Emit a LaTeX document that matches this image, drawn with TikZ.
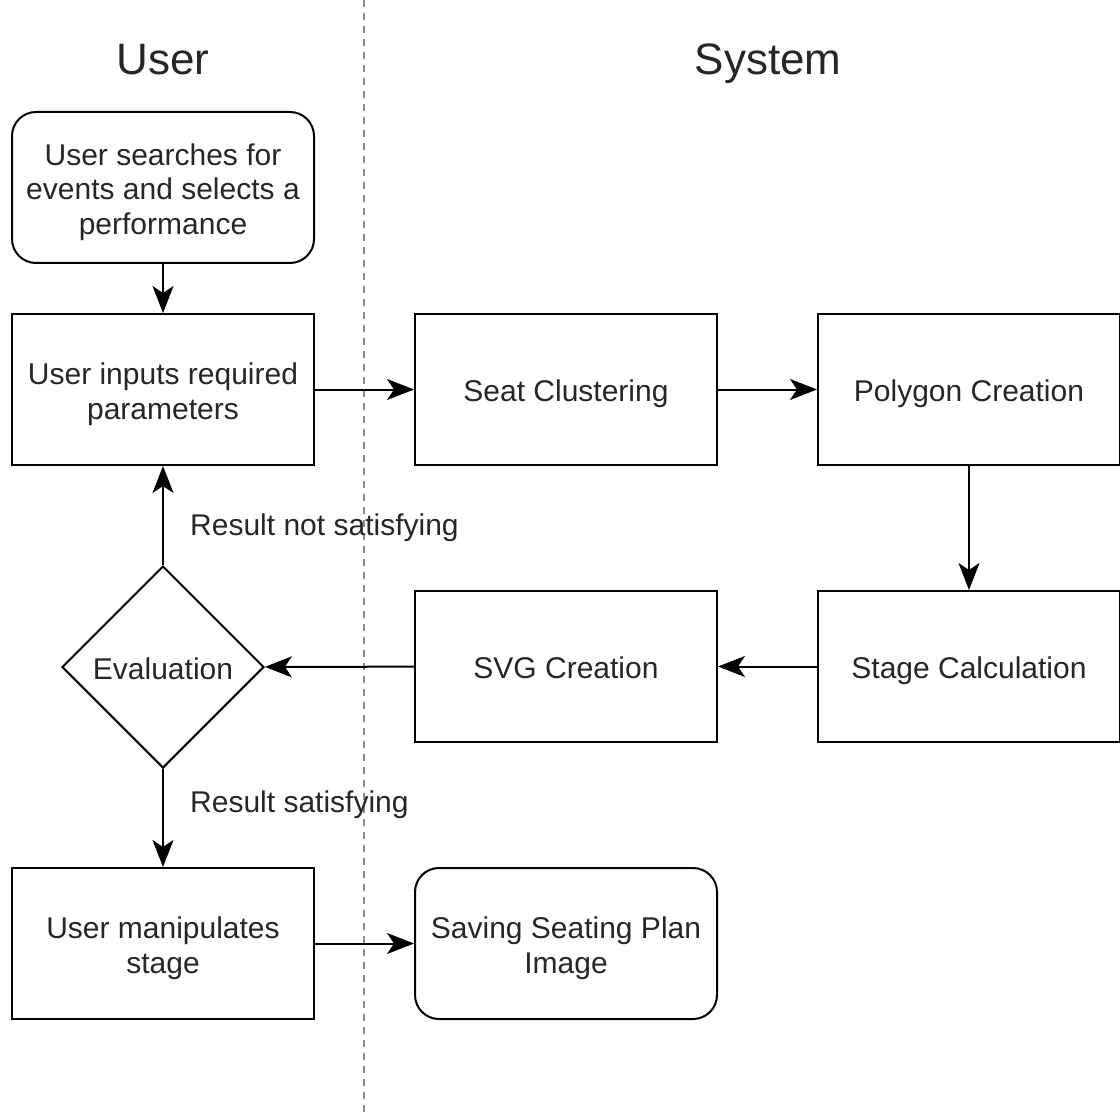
\documentclass[tikz,border=0pt]{standalone}
\usepackage{fontspec}
\setmainfont{Liberation Sans}
\usetikzlibrary{arrows.meta,shapes.geometric}
\newcommand\bxtext[1]{\raisebox{-5.5pt}[\height][\depth]{\begin{tabular}{@{}c@{}}#1\end{tabular}}}
\begin{document}
\begin{tikzpicture}[x=1pt,y=-1pt,
  box/.style={draw, line width=2pt, minimum width=302pt, minimum height=151pt,
    inner sep=0pt, font=\fontsize{30}{34.5}\selectfont, text=black!85},
  rbox/.style={box, rounded corners=24pt},
  decision/.style={draw, diamond, line width=2pt, minimum width=202pt, minimum height=202pt,
    aspect=1, inner sep=0pt, font=\fontsize{30}{34.5}\selectfont, text=black!85},
  title/.style={font=\fontsize{44}{50}\selectfont, text=black!85, anchor=base, inner sep=0pt},
  lbl/.style={font=\fontsize{30}{34.5}\selectfont, text=black!85, anchor=base west, inner sep=0pt},
  conn/.style={line width=2pt, -{Stealth[length=27pt,width=21pt,inset=7pt]}},
  lane/.style={draw=black!45, line width=2pt, dash pattern=on 7pt off 6pt}
]
\useasboundingbox (0,0) rectangle (1120,1118);
\coordinate (laneTop) at (364,0);
\coordinate (laneBot) at (364,1118);
\draw[lane] (laneTop) -- (laneBot);

\node[title] (tUser) at (163,75) {User};
\node[title] (tSys) at (768,75) {System};

\node[rbox] (search) at (163,187.5) {\bxtext{User searches for\\events and selects a\\performance}};
\node[box] (inputs) at (163,389.5) {\bxtext{User inputs required\\parameters}};
\node[box] (seat) at (566,389.5) {\bxtext{Seat Clustering}};
\node[box] (poly) at (969,389.5) {\bxtext{Polygon Creation}};
\node[box] (stage) at (969,666.5) {\bxtext{Stage Calculation}};
\node[box] (svg) at (566,666.5) {\bxtext{SVG Creation}};
\node[decision] (eval) at (163,667) {\bxtext{Evaluation}};
\node[box] (manip) at (163,943.5) {\bxtext{User manipulates\\stage}};
\node[rbox] (save) at (566,943.5) {\bxtext{Saving Seating Plan\\Image}};

\draw[conn] (search) -- (inputs);
\draw[conn] (inputs) -- (seat);
\draw[conn] (seat) -- (poly);
\draw[conn] (poly) -- (stage);
\draw[conn] (stage) -- (svg);
\draw[conn] (svg) -- (eval);
\draw[conn] (eval) -- (inputs);
\draw[conn] (eval) -- (manip);
\draw[conn] (manip) -- (save);

\node[lbl] (lNot) at (190,535) {Result not satisfying};
\node[lbl] (lSat) at (190,812) {Result satisfying};
\end{tikzpicture}
\end{document}
